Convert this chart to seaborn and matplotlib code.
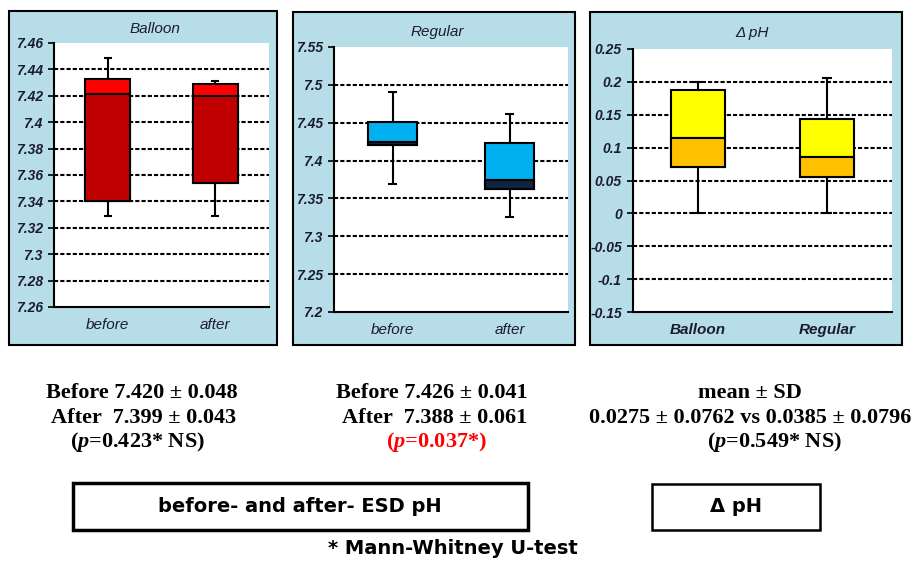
import numpy as np
import pandas as pd
import matplotlib as mpl
import matplotlib.pyplot as plt
from matplotlib.patches import Rectangle
import seaborn as sns

# five-number summaries: min, q1, median, q3, max
balloon_groups = ["before", "after"]
balloon_before = [7.329, 7.340, 7.421, 7.433, 7.449]
balloon_after = [7.329, 7.354, 7.420, 7.429, 7.431]
balloon_ticks = [7.26, 7.28, 7.30, 7.32, 7.34, 7.36, 7.38, 7.40, 7.42, 7.44, 7.46]

regular_groups = ["before", "after"]
regular_before = [7.369, 7.420, 7.425, 7.451, 7.491]
regular_after = [7.325, 7.363, 7.374, 7.423, 7.461]
regular_ticks = [7.20, 7.25, 7.30, 7.35, 7.40, 7.45, 7.50, 7.55]

delta_groups = ["Balloon", "Regular"]
delta_balloon = [0.0, 0.071, 0.115, 0.188, 0.200]
delta_regular = [0.0, 0.056, 0.085, 0.143, 0.206]
delta_ticks = [-0.15, -0.10, -0.05, 0.0, 0.05, 0.10, 0.15, 0.20, 0.25]

# summary text under the panels
balloon_text = ["Before 7.420 \u00b1 0.048", "After  7.399 \u00b1 0.043", "($p$=0.423* NS)"]
regular_text = ["Before 7.426 \u00b1 0.041", "After  7.388 \u00b1 0.061", "($p$=0.037*)"]
delta_text = ["mean \u00b1 SD", "0.0275 \u00b1 0.0762 vs 0.0385 \u00b1 0.0796", "($p$=0.549* NS)"]

plt.rcParams["mathtext.fontset"] = "custom"
plt.rcParams["mathtext.rm"] = "Liberation Serif:bold"
plt.rcParams["mathtext.it"] = "Liberation Serif:italic:bold"

W, H = 917, 562
PANEL_BG = "#B7DEE8"
TICK_COLOR = "#1c1c30"

fig = plt.figure(figsize=(W / 100, H / 100), dpi=100)


def rect(x0, y0, x1, y1):
    # pixel box (top-left origin) -> figure fraction [l, b, w, h]
    return [x0 / W, 1 - y1 / H, (x1 - x0) / W, (y1 - y0) / H]


def frame(x0, y0, x1, y1, fc, lw):
    l, b, w, h = rect(x0, y0, x1, y1)
    fig.add_artist(Rectangle((l, b), w, h, transform=fig.transFigure,
                             facecolor=fc, edgecolor="black", lw=lw, zorder=-1))


def ftext(x, y, s, **kw):
    fig.text(x / W, 1 - y / H, s, **kw)


def box_panel(ax, groups, first, second, ticks, upper, lower, xbold=False):
    df = pd.DataFrame({"group": np.repeat(groups, 5), "value": first + second})
    sns.boxplot(data=df, x="group", y="value", hue="group", order=groups,
                hue_order=groups, palette=upper, saturation=1, width=0.42,
                whis=(0, 100), linecolor="black", linewidth=1.5,
                capwidths=0.06, legend=False, ax=ax)
    # lower half of each box (q1 -> median) in the darker shade
    q1 = np.array([first[1], second[1]])
    med = np.array([first[2], second[2]])
    ax.bar([0, 1], med - q1, bottom=q1, width=0.42, color=lower,
           edgecolor="black", linewidth=1.5, zorder=5)
    for t in ticks[1:-1]:
        ax.axhline(t, color="black", lw=1.5, ls=(0, (2, 1)), zorder=0.5)
    ax.set_xlim(-0.5, 1.5)
    ax.set_ylim(ticks[0], ticks[-1])
    ax.set_yticks(ticks)
    ax.set_yticklabels([f"{round(t, 2):g}" for t in ticks], fontstyle="italic",
                       fontweight="bold", fontsize=10, color=TICK_COLOR,
                       family="Liberation Sans")
    ax.set_xticks([0, 1])
    ax.set_xticklabels(groups, fontstyle="italic", fontsize=11, color=TICK_COLOR,
                       fontweight="bold" if xbold else "normal",
                       family="Liberation Sans")
    ax.tick_params(axis="x", length=0, pad=8)
    ax.tick_params(axis="y", length=4, width=1.2, pad=4, direction="out")
    ax.set_xlabel("")
    ax.set_ylabel("")
    ax.set_facecolor("white")
    for side in ["top", "right"]:
        ax.spines[side].set_visible(False)
    for side in ["left", "bottom"]:
        ax.spines[side].set_linewidth(1.5)
        ax.spines[side].set_color("black")


# panel frames
frame(9, 11, 277, 345, PANEL_BG, 1.5)
frame(293, 12, 575, 345, PANEL_BG, 1.5)
frame(590, 12, 902, 345, PANEL_BG, 1.5)

ax1 = fig.add_axes(rect(54, 43, 269, 307))
box_panel(ax1, balloon_groups, balloon_before, balloon_after, balloon_ticks,
          ["#FF0000", "#FF0000"], "#C00000")
ax2 = fig.add_axes(rect(334, 47, 568, 312))
box_panel(ax2, regular_groups, regular_before, regular_after, regular_ticks,
          ["#00B0F0", "#00B0F0"], "#0F243E")
ax3 = fig.add_axes(rect(633, 49, 892, 312))
box_panel(ax3, delta_groups, delta_balloon, delta_regular, delta_ticks,
          ["#FFFF00", "#FFFF00"], "#FFC000", xbold=True)

title_kw = dict(ha="center", va="center", fontstyle="italic", fontsize=11,
                color=TICK_COLOR, family="Liberation Sans")
ftext(155, 29, "Balloon", **title_kw)
ftext(437, 32, "Regular", **title_kw)
ftext(752, 33, "\u0394 pH", **title_kw)

# summary lines
serif_kw = dict(ha="center", va="baseline", fontsize=16, fontweight="bold",
                family="Liberation Serif")
baselines = [398, 423, 447]
for s, x, y in zip(balloon_text, [142, 144, 137], baselines):
    ftext(x, y, s, color="black", **serif_kw)
for s, x, y, c in zip(regular_text, [432, 435, 436], baselines,
                      ["black", "black", "#FF0000"]):
    ftext(x, y, s, color=c, **serif_kw)
for s, x, y in zip(delta_text, [750, 750, 774], baselines):
    ftext(x, y, s, color="black", **serif_kw)

# label boxes
frame(73, 483, 528, 530, "white", 2.5)
frame(652, 484, 820, 530, "white", 1.8)
ftext(300, 507, "before- and after- ESD pH", ha="center", va="center",
      fontsize=14, fontweight="bold", family="DejaVu Sans")
ftext(736, 507, "\u0394 pH", ha="center", va="center",
      fontsize=14, fontweight="bold", family="DejaVu Sans")
ftext(453, 549, "* Mann-Whitney U-test", ha="center", va="center",
      fontsize=14, fontweight="bold", family="DejaVu Sans")

fig.savefig("out.png", dpi=100, facecolor="white")
